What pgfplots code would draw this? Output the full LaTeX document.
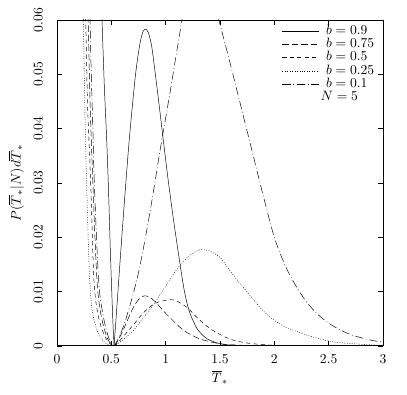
\documentclass[border=0pt]{standalone}
\usepackage{pgfplots}
\pgfplotsset{compat=1.18}
\begin{document}
\begin{tikzpicture}
\begin{axis}[
  name=ax,
  scale only axis, width=240pt, height=240pt,
  xmin=0, xmax=3, ymin=0, ymax=0.06,
  xtick={0,0.5,1,1.5,2,2.5,3},
  ytick={0,0.01,0.02,0.03,0.04,0.05,0.06},
  scaled y ticks=false,
  yticklabel style={/pgf/number format/fixed,/pgf/number format/precision=2,rotate=90,anchor=south},
  yticklabel shift=7pt,
  xticklabel shift=3pt,
  tick align=inside, major tick length=3.7pt,
  tick style={black,line width=0.5pt},
  axis line style={line width=0.6pt},
  xlabel={$\overline{T}_*$},
  ylabel={$P(\overline{T}_*|N)d\overline{T}_*$},
  xlabel style={at={(axis description cs:0.5,-0.096)},anchor=center},
  ylabel style={at={(axis description cs:-0.125,0.5)},anchor=center},
  legend cell align=left,
  legend style={draw=none,fill=none,at={(rel axis cs:0.69,0.985)},anchor=north west,inner sep=0pt,row sep=0pt,
    nodes={inner xsep=1pt,inner ysep=0.8pt,text height=6.4pt,text depth=1.6pt},
    /tikz/every odd column/.append style={column sep=4pt}},
  legend image code/.code={\draw[#1] (0pt,0pt) -- (27pt,0pt);},
  every axis plot/.append style={black,line width=0.35pt},
]
% left branches
\addplot[forget plot,smooth,tension=0.5] coordinates {(0.405,0.066) (0.414,0.060) (0.435,0.048) (0.457,0.038) (0.475,0.028) (0.49,0.018) (0.502,0.011) (0.513,0.005) (0.525,0)};
\addplot[forget plot,smooth,tension=0.5,dash pattern=on 4.8pt off 2.2pt] coordinates {(0.28,0.066) (0.287,0.060) (0.30,0.048) (0.315,0.038) (0.33,0.030) (0.345,0.022) (0.36,0.015) (0.375,0.0100) (0.40,0.0062) (0.43,0.0035) (0.46,0.0016) (0.49,0.0005) (0.525,0)};
\addplot[forget plot,smooth,tension=0.5,dash pattern=on 3pt off 2.5pt] coordinates {(0.258,0.066) (0.264,0.060) (0.28,0.045) (0.30,0.035) (0.315,0.027) (0.328,0.018) (0.34,0.012) (0.355,0.0085) (0.38,0.0055) (0.41,0.0033) (0.44,0.0018) (0.47,0.0008) (0.50,0.0002) (0.525,0)};
\addplot[forget plot,smooth,tension=0.5,dash pattern=on 0.6pt off 1.2pt] coordinates {(0.235,0.066) (0.242,0.060) (0.252,0.048) (0.262,0.038) (0.275,0.028) (0.288,0.019) (0.300,0.0125) (0.315,0.0080) (0.34,0.0048) (0.37,0.0028) (0.40,0.0016) (0.43,0.0008) (0.46,0.0003) (0.50,0.00005) (0.525,0)};
\addplot[forget plot,smooth,tension=0.5,dash pattern=on 6pt off 2pt on 0.6pt off 2pt] coordinates {(0.295,0.066) (0.304,0.060) (0.315,0.050) (0.33,0.040) (0.34,0.032) (0.355,0.024) (0.37,0.017) (0.385,0.0115) (0.40,0.0085) (0.43,0.0050) (0.46,0.0025) (0.49,0.0008) (0.525,0)};
\addplot[forget plot,smooth,tension=0.5,dash pattern=on 6pt off 2pt on 0.6pt off 2pt] coordinates {(1.45,0.063) (1.5,0.0592) (1.6,0.0515) (1.7,0.0435) (1.8,0.0355) (1.9,0.0275) (2.0,0.0200) (2.1,0.0148) (2.2,0.0110) (2.3,0.0080) (2.4,0.0058) (2.5,0.0042) (2.6,0.0030) (2.7,0.0021) (2.8,0.0015) (2.9,0.0010) (3.0,0.0007)};
% right branches
\addplot[smooth,tension=0.5] coordinates {(0.525,0) (0.55,0.007) (0.58,0.0155) (0.62,0.0265) (0.665,0.038) (0.72,0.0495) (0.76,0.0553) (0.79,0.0578) (0.815,0.0583) (0.84,0.0577) (0.87,0.0553) (0.9,0.0508) (0.94,0.0443) (0.978,0.0379) (1.02,0.031) (1.07,0.0235) (1.116,0.0172) (1.15,0.0127) (1.18,0.0093) (1.22,0.0062) (1.285,0.0033) (1.35,0.0018) (1.4,0.0011) (1.5,0.0004) (1.6,0.00015) (1.8,0.00003) (2.0,0) (3.0,0)};
\addlegendentry{$b=0.9$}
\addplot[smooth,tension=0.5,dash pattern=on 4.8pt off 2.2pt] coordinates {(0.525,0) (0.55,0.0006) (0.6,0.0025) (0.65,0.0048) (0.7,0.0070) (0.75,0.0085) (0.8,0.0092) (0.85,0.0090) (0.9,0.0082) (0.95,0.0071) (1.0,0.0060) (1.05,0.0050) (1.1,0.0040) (1.15,0.0031) (1.2,0.0024) (1.3,0.0014) (1.4,0.0008) (1.5,0.0004) (1.6,0.0002) (1.8,0.00005) (2.0,0) (3,0)};
\addlegendentry{$b=0.75$}
\addplot[smooth,tension=0.5,dash pattern=on 3pt off 2.5pt] coordinates {(0.525,0) (0.55,0.0004) (0.6,0.0015) (0.7,0.0038) (0.8,0.0062) (0.9,0.0078) (1.0,0.0084) (1.05,0.0085) (1.1,0.0083) (1.2,0.0070) (1.3,0.0050) (1.4,0.0033) (1.5,0.0021) (1.6,0.0012) (1.7,0.0007) (1.8,0.0004) (2.0,0.0001) (2.2,0) (3,0)};
\addlegendentry{$b=0.5$}
\addplot[smooth,tension=0.5,dash pattern=on 0.6pt off 1.2pt] coordinates {(0.525,0) (0.55,0.0003) (0.6,0.0010) (0.7,0.0028) (0.8,0.0053) (0.9,0.0080) (1.0,0.0110) (1.1,0.0140) (1.2,0.0163) (1.3,0.0176) (1.35,0.0177) (1.4,0.0175) (1.5,0.0163) (1.6,0.0136) (1.7,0.0111) (1.8,0.0087) (1.9,0.0064) (2.0,0.0047) (2.1,0.0035) (2.2,0.0027) (2.3,0.0020) (2.4,0.0014) (2.5,0.0009) (2.6,0.0006) (2.8,0.0003) (3.0,0.0001)};
\addlegendentry{$b=0.25$}
\addplot[smooth,tension=0.5,dash pattern=on 6pt off 2pt on 0.6pt off 2pt] coordinates {(0.525,0) (0.55,0.0008) (0.6,0.003) (0.65,0.006) (0.7,0.0095) (0.75,0.0135) (0.8,0.0185) (0.85,0.024) (0.9,0.030) (0.95,0.0362) (1.0,0.042) (1.05,0.0478) (1.1,0.054) (1.15,0.060) (1.2,0.066)};
\addlegendentry{$b=0.1$}
\addlegendimage{empty legend}
\addlegendentry{\hspace*{-4pt}$N=5$}
\end{axis}
\path ([xshift=-42pt,yshift=-36pt]ax.south west) rectangle ([xshift=17.7pt,yshift=14.7pt]ax.north east);
\end{tikzpicture}
\end{document}
